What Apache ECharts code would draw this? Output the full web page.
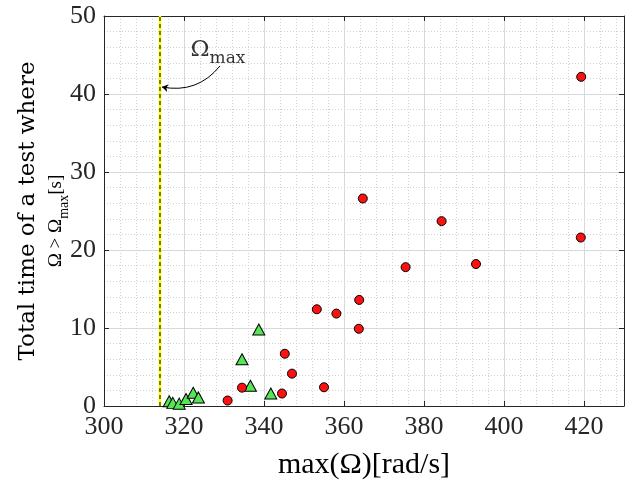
<!DOCTYPE html>
<html>
<head>
<meta charset="utf-8">
<script src="https://cdn.jsdelivr.net/npm/echarts@6/dist/echarts.min.js"></script>
<style>html,body{margin:0;padding:0;background:#fff}#chart{width:632px;height:482px}</style>
</head>
<body>
<div id="chart"></div>
<script>
// ---- data ----
const xTickLabels = ['300', '320', '340', '360', '380', '400', '420'];
const yTickLabels = ['0', '10', '20', '30', '40', '50'];
const omegaMax = 314;

const redX = [330.9, 334.5, 344.5, 345.2, 347.0, 355.0, 353.2, 358.1, 363.7, 363.8, 364.7, 375.4, 384.4, 393.0, 419.2, 419.3];
const redY = [0.7, 2.35, 1.6, 6.7, 4.15, 2.4, 12.4, 11.85, 9.9, 13.6, 26.6, 17.8, 23.7, 18.2, 21.6, 42.2];

const greenX = [316.3, 317.2, 318.8, 320.5, 322.3, 323.6, 334.5, 336.6, 338.7, 341.7];
const greenY = [0.6, 0.4, 0.3, 0.9, 1.7, 1.1, 6.0, 2.6, 9.8, 1.6];

// annotation anchor (data units)
const arrowFrom = [329.0, 43.6];
const arrowTo = [314.5, 40.9];
const labelAt = [328.5, 45.0];

const X_MIN = 300, X_MAX = 430, Y_MIN = 0, Y_MAX = 50;

const redData = redX.map((x, i) => [x, redY[i]]);
const greenData = greenX.map((x, i) => [x, greenY[i]]);

const serif = 'Liberation Serif';
const wideSerif = 'DejaVu Serif';
const axisColor = '#262626';

const chart = echarts.init(document.getElementById('chart'), null, {renderer: 'canvas'});

const grid = {left: 104, right: 8, top: 16, bottom: 76, containLabel: false, outerBoundsMode: 'none'};

function hiddenAxisBase() {
  return {
    axisLine: {show: false}, axisTick: {show: false}, axisLabel: {show: false}
  };
}

const minorLine = {show: true, lineStyle: {color: '#d2d2d2', width: 1, type: [1, 2]}};
const majorLine = {show: true, lineStyle: {color: '#dcdcdc', width: 1}};

const option = {
  backgroundColor: '#ffffff',
  animation: false,
  grid: grid,
  xAxis: [
    {
      type: 'value', min: X_MIN, max: X_MAX, interval: 20, position: 'bottom',
      axisLine: {show: true, onZero: false, lineStyle: {color: axisColor, width: 1}},
      axisTick: {show: true, inside: true, length: 5, lineStyle: {color: axisColor}},
      axisLabel: {
        show: true, margin: 8, color: axisColor, fontFamily: serif, fontSize: 26,
        showMaxLabel: false,
        formatter: v => (xTickLabels.indexOf(String(v)) >= 0 ? String(v) : '')
      },
      splitLine: majorLine,
      name: 'max(Ω)[rad/s]', nameLocation: 'middle', nameGap: 44,
      nameTextStyle: {fontFamily: serif, fontSize: 30, color: '#000'}
    },
    Object.assign(hiddenAxisBase(), {
      type: 'value', min: X_MIN, max: X_MAX, interval: 4, position: 'bottom',
      splitLine: minorLine
    }),
    {
      type: 'value', min: X_MIN, max: X_MAX, interval: 20, position: 'top',
      axisLine: {show: true, onZero: false, lineStyle: {color: axisColor, width: 1}},
      axisTick: {show: true, inside: true, length: 5, lineStyle: {color: axisColor}},
      axisLabel: {show: false}, splitLine: {show: false}
    }
  ],
  yAxis: [
    {
      type: 'value', min: Y_MIN, max: Y_MAX, interval: 10, position: 'left',
      axisLine: {show: true, onZero: false, lineStyle: {color: axisColor, width: 1}},
      axisTick: {show: true, inside: true, length: 5, lineStyle: {color: axisColor}},
      axisLabel: {
        show: true, margin: 8, color: axisColor, fontFamily: serif, fontSize: 26,
        formatter: v => (yTickLabels.indexOf(String(v)) >= 0 ? String(v) : '')
      },
      splitLine: majorLine,
      name: 'Total time of a test where',
      nameLocation: 'middle', nameRotate: 90, nameGap: 64,
      nameTextStyle: {fontFamily: wideSerif, fontSize: 23, color: '#000'}
    },
    Object.assign(hiddenAxisBase(), {
      type: 'value', min: Y_MIN, max: Y_MAX, interval: 2, position: 'left',
      splitLine: minorLine,
      name: '{b|Ω > Ω}{s|max}{e|[s]}',
      nameLocation: 'middle', nameRotate: 90, nameGap: 33,
      nameTextStyle: {
        rich: {
          b: {fontFamily: serif, fontSize: 19, color: '#000', lineHeight: 22, verticalAlign: 'bottom', padding: [0, 0, 5, 0]},
          s: {fontFamily: serif, fontSize: 14, color: '#000', lineHeight: 16, verticalAlign: 'bottom'},
          e: {fontFamily: serif, fontSize: 19, color: '#000', lineHeight: 22, verticalAlign: 'bottom', padding: [0, 20, 5, 0]}
        }
      }
    }),
    {
      type: 'value', min: Y_MIN, max: Y_MAX, interval: 10, position: 'right',
      axisLine: {show: true, onZero: false, lineStyle: {color: axisColor, width: 1}},
      axisTick: {show: true, inside: true, length: 5, lineStyle: {color: axisColor}},
      axisLabel: {show: false}, splitLine: {show: false}
    }
  ],
  series: [
    {
      type: 'line', xAxisIndex: 0, yAxisIndex: 0, symbol: 'none', silent: true,
      data: [[omegaMax, Y_MIN], [omegaMax, Y_MAX]],
      lineStyle: {color: '#ffff00', width: 2.5}, z: 3
    },
    {
      type: 'line', xAxisIndex: 0, yAxisIndex: 0, symbol: 'none', silent: true,
      data: [[omegaMax, Y_MIN], [omegaMax, Y_MAX]],
      lineStyle: {color: '#000000', width: 1, type: [4, 3]}, z: 4
    },
    {
      type: 'lines', coordinateSystem: 'cartesian2d', xAxisIndex: 0, yAxisIndex: 0,
      symbol: ['none', 'arrow'], symbolSize: 6, silent: true,
      lineStyle: {color: '#000', width: 1, curveness: 0.3, opacity: 1},
      data: [{coords: [arrowFrom, arrowTo]}], z: 5
    },
    {
      type: 'scatter', xAxisIndex: 0, yAxisIndex: 0, symbolSize: 0, silent: true,
      data: [labelAt],
      label: {
        show: true, position: 'inside',
        formatter: '{o|Ω}{m|max}',
        rich: {
          o: {fontFamily: wideSerif, fontSize: 23, color: '#000', verticalAlign: 'bottom', lineHeight: 24, padding: [0, 0, 5, 0]},
          m: {fontFamily: wideSerif, fontSize: 17, color: '#000', verticalAlign: 'bottom', lineHeight: 18}
        }
      }, z: 6
    },
    {
      type: 'scatter', xAxisIndex: 0, yAxisIndex: 0, symbol: 'triangle', symbolSize: [12, 11],
      data: greenData,
      itemStyle: {color: '#55e655', borderColor: '#000', borderWidth: 1, opacity: 1}, z: 7
    },
    {
      type: 'scatter', xAxisIndex: 0, yAxisIndex: 0, symbol: 'circle', symbolSize: 9,
      data: redData,
      itemStyle: {color: '#ff1010', borderColor: '#000', borderWidth: 1, opacity: 1}, z: 8
    }
  ]
};

chart.setOption(option);
</script>
</body>
</html>
